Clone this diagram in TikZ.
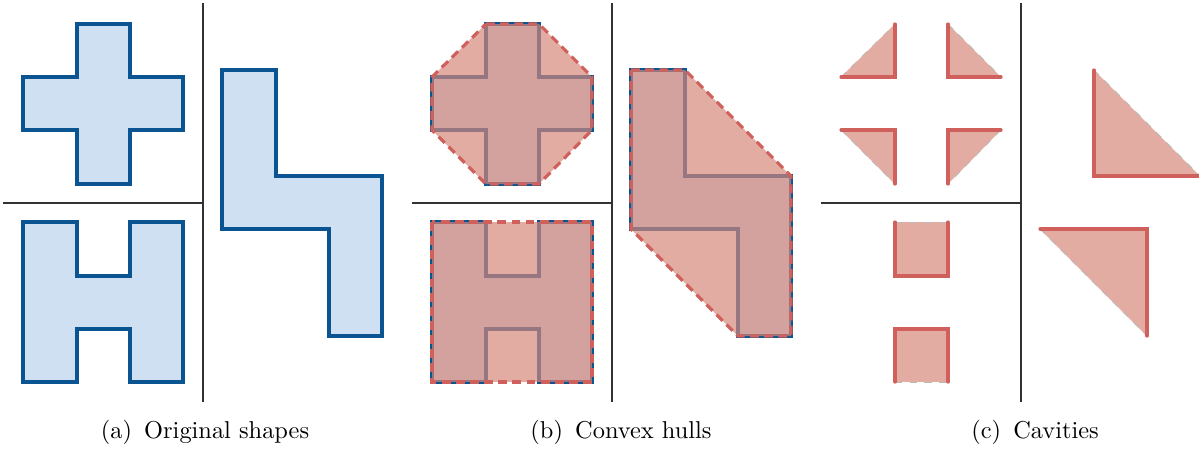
\documentclass[tikz,border=0pt]{standalone}
\usepackage{xcolor}
\usepackage{tikz}

\definecolor{shapefill}{RGB}{207,224,242}
\definecolor{shapeline}{RGB}{10,85,145}
\definecolor{hullfill}{RGB}{214,135,122}
\definecolor{hullline}{RGB}{208,96,91}
\definecolor{divgray}{RGB}{50,50,50}

% outlines of the three shapes (pixel grid, y downwards)
\newcommand{\crosspath}{(77,24) -- (130,24) -- (130,77) -- (183,77) -- (183,130) -- (130,130) -- (130,184) -- (77,184) -- (77,130) -- (23,130) -- (23,77) -- (77,77) -- cycle}
\newcommand{\hpath}{(23,222) -- (77,222) -- (77,276) -- (130,276) -- (130,222) -- (183,222) -- (183,382) -- (130,382) -- (130,329) -- (77,329) -- (77,382) -- (23,382) -- cycle}
\newcommand{\lpath}{(222,70) -- (276,70) -- (276,176) -- (382,176) -- (382,336) -- (329,336) -- (329,229) -- (222,229) -- cycle}

\begin{document}
\begin{tikzpicture}[x=0.41pt, y=-0.41pt,
    origshape/.style={fill=shapefill, draw=shapeline, line width=1.3pt},
    hullarea/.style={fill=hullfill, fill opacity=0.69},
    hullborder/.style={draw=hullline, line width=1.3pt, dash pattern=on 3.6pt off 2.2pt},
    cavityedge/.style={draw=hullline, line width=1.3pt, line cap=round},
    hulledge/.style={draw=gray!55, line width=0.3pt, dashed},
    divline/.style={draw=divgray, line width=0.8pt}]
    \useasboundingbox (0,0) rectangle (1199,448);

    % (a) Original shapes
    \draw[origshape] \crosspath;
    \draw[origshape] \hpath;
    \draw[origshape] \lpath;
    \draw[divline] (203,3) -- (203,402);
    \draw[divline] (3,203) -- (203,203);
    \node[anchor=base] (cap-a) at (205,438) {(a)\hspace{0.5em}Original shapes};

    % (b) Convex hulls
    \begin{scope}[shift={(409,0)}]
        \draw[origshape] \crosspath;
        \draw[origshape] \hpath;
        \draw[origshape] \lpath;
        \fill[hullarea] (77,24) -- (130,24) -- (183,77) -- (183,130) -- (130,184) -- (77,184) -- (23,130) -- (23,77) -- cycle;
        \fill[hullarea] (23,222) rectangle (183,382);
        \fill[hullarea] (222,70) -- (276,70) -- (382,176) -- (382,336) -- (329,336) -- (222,229) -- cycle;
        \draw[hullborder] (77,24) -- (130,24) -- (183,77) -- (183,130) -- (130,184) -- (77,184) -- (23,130) -- (23,77) -- cycle;
        \draw[hullborder] (23,222) rectangle (183,382);
        \draw[hullborder] (222,70) -- (276,70) -- (382,176) -- (382,336) -- (329,336) -- (222,229) -- cycle;
        \draw[divline] (203,3) -- (203,402);
        \draw[divline] (3,203) -- (203,203);
    \end{scope}
    \node[anchor=base] (cap-b) at (621,438) {(b)\hspace{0.5em}Convex hulls};

    % (c) Cavities
    \begin{scope}[shift={(818,0)}]
        % cross
        \fill[hullarea] (23,77) -- (77,24) -- (77,77) -- cycle;
        \fill[hullarea] (130,24) -- (183,77) -- (130,77) -- cycle;
        \fill[hullarea] (23,130) -- (77,130) -- (77,184) -- cycle;
        \fill[hullarea] (130,130) -- (183,130) -- (130,184) -- cycle;
        \draw[hulledge] (23,77) -- (77,24);
        \draw[hulledge] (130,24) -- (183,77);
        \draw[hulledge] (23,130) -- (77,184);
        \draw[hulledge] (183,130) -- (130,184);
        \draw[cavityedge] (77,24) -- (77,77) -- (23,77);
        \draw[cavityedge] (130,24) -- (130,77) -- (183,77);
        \draw[cavityedge] (23,130) -- (77,130) -- (77,184);
        \draw[cavityedge] (183,130) -- (130,130) -- (130,184);
        % H
        \fill[hullarea] (77,222) rectangle (130,276);
        \fill[hullarea] (77,329) rectangle (130,382);
        \draw[hulledge] (77,222) -- (130,222);
        \draw[hulledge] (77,382) -- (130,382);
        \draw[cavityedge] (77,222) -- (77,276) -- (130,276) -- (130,222);
        \draw[cavityedge] (77,382) -- (77,329) -- (130,329) -- (130,382);
        % L
        \fill[hullarea] (276,70) -- (276,176) -- (382,176) -- cycle;
        \fill[hullarea] (222,229) -- (329,229) -- (329,336) -- cycle;
        \draw[hulledge] (276,70) -- (382,176);
        \draw[hulledge] (222,229) -- (329,336);
        \draw[cavityedge] (276,70) -- (276,176) -- (382,176);
        \draw[cavityedge] (222,229) -- (329,229) -- (329,336);
        \draw[divline] (203,3) -- (203,402);
        \draw[divline] (3,203) -- (203,203);
    \end{scope}
    \node[anchor=base] (cap-c) at (1035,438) {(c)\hspace{0.5em}Cavities};
\end{tikzpicture}
\end{document}
